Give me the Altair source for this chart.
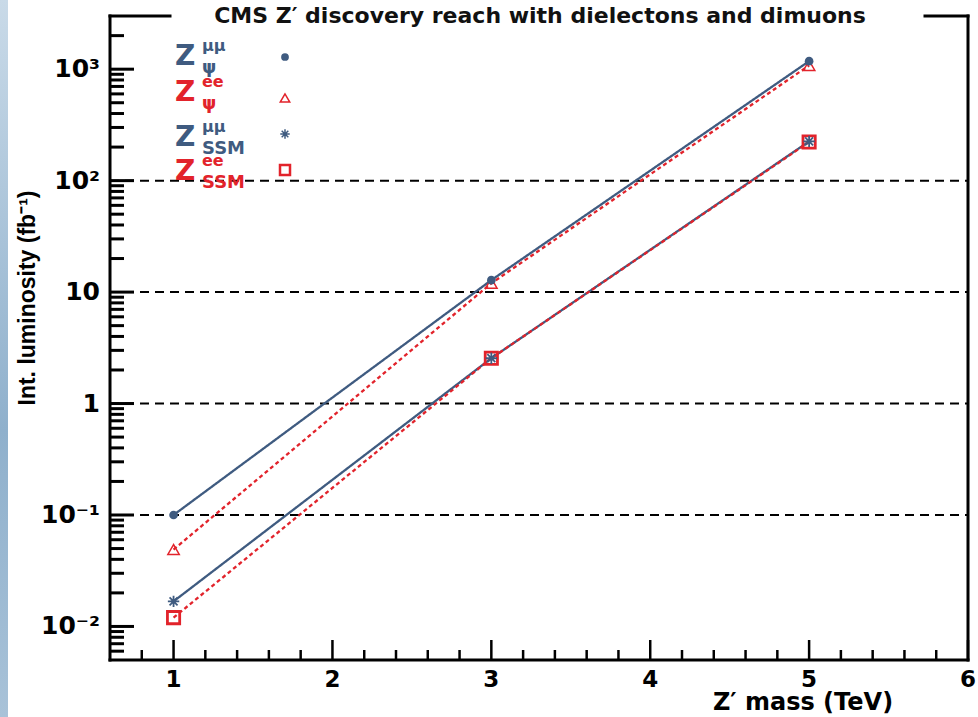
import altair as alt
import pandas as pd

# ---------------- data ----------------
mass = [1, 3, 5]
lumi_psi_mumu = [0.1, 12.8, 1180]
lumi_psi_ee = [0.049, 12.0, 1080]
lumi_ssm_mumu = [0.0168, 2.55, 225]
lumi_ssm_ee = [0.012, 2.55, 222]
series_names = ["psi_mumu", "psi_ee", "ssm_mumu", "ssm_ee"]

y_major = [0.01, 0.1, 1, 10, 100, 1000]
y_major_labels = ["10⁻²", "10⁻¹", "1", "10", "10²", "10³"]
grid_values = [0.1, 1, 10, 100]
x_major = [1, 2, 3, 4, 5, 6]
x_major_labels = ["1", "2", "3", "4", "5", "6"]

legend_main = ["Z", "Z", "Z", "Z"]
legend_sup = ["μμ", "ee", "μμ", "ee"]
legend_sub = ["ψ", "ψ", "SSM", "SSM"]

title_text = "CMS Z′ discovery reach with dielectons and dimuons"
x_title = "Z′ mass (TeV)"
y_title = "Int. luminosity (fb⁻¹)"

# minor tick positions
y_minor = [round(k * 10.0 ** d, 8) for d in range(-3, 4) for k in range(2, 10)]
y_minor = [v for v in y_minor if 0.005 < v < 3000]
x_minor = [round(0.8 + 0.2 * i, 1) for i in range(26)]
x_minor = [v for v in x_minor if abs(v - round(v)) > 1e-6 and v < 6]

# ---------------- style ----------------
W, H = 858, 644
BLUE = "#3f5b80"
RED = "#e2232b"
FONT = "DejaVu Sans"
ASTERISK = "M-1,0L1,0M0,-1L0,1M-0.7,-0.7L0.7,0.7M-0.7,0.7L0.7,-0.7"
MAJOR_LEN, MINOR_LEN = 24, 14

xscale = alt.Scale(domain=[0.6, 6], nice=False, zero=False)
yscale = alt.Scale(type="log", domain=[0.005, 3000], nice=False)

rows = []
for name, vals in zip(series_names, [lumi_psi_mumu, lumi_psi_ee, lumi_ssm_mumu, lumi_ssm_ee]):
    for m, v in zip(mass, vals):
        rows.append({"series": name, "mass": m, "lumi": v})
df = pd.DataFrame(rows)
one = pd.DataFrame({"a": [0]})

X = lambda: alt.X("mass:Q", scale=xscale, axis=None)
Y = lambda: alt.Y("lumi:Q", scale=yscale, axis=None)

layers = []

# left blue strip
strip = alt.Chart(one).mark_rect(
    fill=alt.Gradient(gradient="linear", x1=0, x2=0, y1=0, y2=1,
                      stops=[alt.GradientStop(color="#c9dae8", offset=0),
                             alt.GradientStop(color="#8fb0cc", offset=0.6),
                             alt.GradientStop(color="#a8c2d8", offset=1)])
).encode(x=alt.value(-110), x2=alt.value(-102), y=alt.value(-16), y2=alt.value(H + 57))
layers.append(strip)

# dashed grid
grid = alt.Chart(pd.DataFrame({"gv": grid_values})).mark_rule(
    color="black", strokeWidth=2, strokeDash=[9, 6]
).encode(y=alt.Y("gv:Q", scale=yscale, axis=None), x=alt.value(0), x2=alt.value(W))
layers.append(grid)

# inward x ticks
xmaj = alt.Chart(pd.DataFrame({"xv": x_major})).mark_tick(
    orient="vertical", color="black", thickness=2.5, size=20, opacity=1).encode(
    x=alt.X("xv:Q", scale=xscale, axis=None), y=alt.value(H - 10))
xmin = alt.Chart(pd.DataFrame({"xm": x_minor})).mark_tick(
    orient="vertical", color="black", thickness=2.5, size=10, opacity=1).encode(
    x=alt.X("xm:Q", scale=xscale, axis=None), y=alt.value(H - 5))
layers += [xmaj, xmin]

# lines: blue solid first, then red dotted
for name, col, dash in [("psi_mumu", BLUE, [1, 0]), ("ssm_mumu", BLUE, [1, 0]),
                        ("psi_ee", RED, [4, 3]), ("ssm_ee", RED, [4, 3])]:
    layers.append(alt.Chart(df).transform_filter(alt.datum.series == name).mark_line(
        color=col, strokeWidth=2.3, strokeDash=dash).encode(x=X(), y=Y()))

# markers
layers.append(alt.Chart(df).transform_filter(alt.datum.series == "ssm_ee").mark_point(
    shape="square", filled=False, size=150, color=RED, strokeWidth=2.8, opacity=1).encode(x=X(), y=Y()))
layers.append(alt.Chart(df).transform_filter(alt.datum.series == "psi_ee").mark_point(
    shape="triangle-up", filled=False, size=130, color=RED, strokeWidth=1.5, opacity=1).encode(x=X(), y=Y()))
layers.append(alt.Chart(df).transform_filter(alt.datum.series == "ssm_mumu").mark_point(
    shape=ASTERISK, filled=False, size=130, color=BLUE, strokeWidth=1.8, opacity=1).encode(x=X(), y=Y()))
layers.append(alt.Chart(df).transform_filter(alt.datum.series == "psi_mumu").mark_point(
    shape="circle", filled=True, size=75, color=BLUE, opacity=1).encode(x=X(), y=Y()))

# frame (top broken by title)
frame_style = dict(color="black", strokeWidth=3, strokeCap="square")
layers += [
    alt.Chart(one).mark_rule(**frame_style).encode(x=alt.value(0), y=alt.value(0), y2=alt.value(H)),
    alt.Chart(one).mark_rule(**frame_style).encode(x=alt.value(W), y=alt.value(0), y2=alt.value(H)),
    alt.Chart(one).mark_rule(**frame_style).encode(y=alt.value(H), x=alt.value(0), x2=alt.value(W)),
    alt.Chart(one).mark_rule(**frame_style).encode(y=alt.value(0), x=alt.value(0), x2=alt.value(60)),
    alt.Chart(one).mark_rule(**frame_style).encode(y=alt.value(0), x=alt.value(815), x2=alt.value(W)),
]

# tick labels
layers.append(alt.Chart(pd.DataFrame({"lv": y_major, "t": y_major_labels})).mark_text(
    align="right", baseline="middle", font=FONT, fontWeight="bold", fontSize=25, color="black"
).encode(y=alt.Y("lv:Q", scale=yscale, axis=None), x=alt.value(-10), text="t:N"))
layers.append(alt.Chart(pd.DataFrame({"lx": x_major, "t": x_major_labels})).mark_text(
    align="center", baseline="middle", font=FONT, fontWeight="bold", fontSize=23, color="black"
).encode(x=alt.X("lx:Q", scale=xscale, axis=None), y=alt.value(H + 20), text="t:N"))

# axis titles
layers.append(alt.Chart(pd.DataFrame({"t": [x_title]})).mark_text(
    align="center", baseline="middle", font=FONT, fontWeight="bold", fontSize=24, color="black"
).encode(x=alt.value(693), y=alt.value(H + 43), text="t:N"))
layers.append(alt.Chart(pd.DataFrame({"t": [y_title]})).mark_text(
    align="center", baseline="middle", angle=270, font="Liberation Sans",
    fontWeight="bold", fontSize=23, color="black"
).encode(x=alt.value(-82), y=alt.value(282), text="t:N"))

# title
layers.append(alt.Chart(pd.DataFrame({"t": [title_text]})).mark_text(
    align="center", baseline="middle", font=FONT, fontWeight="bold", fontSize=22, color="#111111"
).encode(x=alt.value(430), y=alt.value(0), text="t:N"))

# legend
row_y = [41, 77, 122, 156]
mark_y = [41, 82, 118, 154]
row_col = [BLUE, RED, BLUE, RED]
for i in range(4):
    d = pd.DataFrame({"z": [legend_main[i]], "sup": [legend_sup[i]], "sub": [legend_sub[i]]})
    layers.append(alt.Chart(d).mark_text(
        align="left", baseline="middle", font=FONT, fontWeight="bold", fontSize=28, color=row_col[i]
    ).encode(x=alt.value(65), y=alt.value(row_y[i]), text="z:N"))
    layers.append(alt.Chart(d).mark_text(
        align="left", baseline="middle", font=FONT, fontWeight="bold", fontSize=16, color=row_col[i]
    ).encode(x=alt.value(92), y=alt.value(row_y[i] - 11), text="sup:N"))
    layers.append(alt.Chart(d).mark_text(
        align="left", baseline="middle", font=FONT, fontWeight="bold",
        fontSize=18, color=row_col[i]
    ).encode(x=alt.value(92), y=alt.value(row_y[i] + 11), text="sub:N"))

leg_marks = [
    dict(shape="circle", filled=True, size=60, color=BLUE),
    dict(shape="triangle-up", filled=False, size=90, color=RED, strokeWidth=1.5),
    dict(shape=ASTERISK, filled=False, size=90, color=BLUE, strokeWidth=1.5),
    dict(shape="square", filled=False, size=100, color=RED, strokeWidth=2.5),
]
for i, m in enumerate(leg_marks):
    layers.append(alt.Chart(one).mark_point(opacity=1, **m).encode(
        x=alt.value(175), y=alt.value(mark_y[i])))

# inward y ticks (major + minor in one layer), drawn last
ytick_df = pd.DataFrame(
    [{"q": v, "len": MAJOR_LEN, "mid": MAJOR_LEN / 2} for v in y_major]
    + [{"q": v, "len": MINOR_LEN, "mid": MINOR_LEN / 2} for v in y_minor]
)
layers.append(alt.Chart(ytick_df).mark_tick(
    orient="horizontal", color="#000000", thickness=3, opacity=1).encode(
    y=alt.Y("q:Q", scale=yscale, axis=None),
    x=alt.X("mid:Q", scale=None, axis=None),
    size=alt.Size("len:Q", scale=None, legend=None)))

chart = alt.layer(*layers).properties(
    width=W, height=H,
    autosize=alt.AutoSizeParams(type="none"),
    padding={"left": 110, "top": 16, "right": 10, "bottom": 57},
    background="white",
).configure_view(stroke=None)

chart.save("out.html", embed_options={"renderer": "svg", "actions": False})
